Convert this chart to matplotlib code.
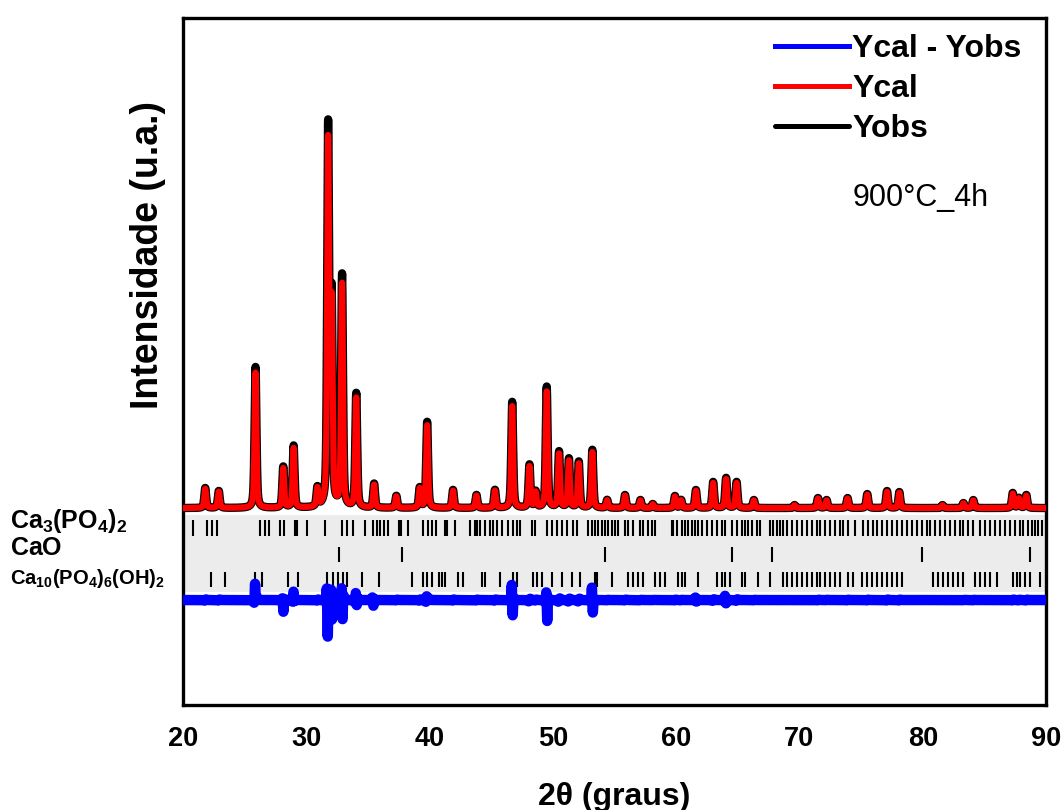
import numpy as np
import matplotlib
matplotlib.use("Agg")
import matplotlib.pyplot as plt

plt.rcParams['font.family'] = ['Liberation Sans', 'DejaVu Sans']
plt.rcParams['mathtext.fontset'] = 'custom'
plt.rcParams['mathtext.rm'] = 'Liberation Sans'
plt.rcParams['mathtext.bf'] = 'Liberation Sans:bold'

# ---------------- data ----------------
# observed reflections: 2theta position (deg) and height above background (counts)
peak_pos = [21.8, 22.9, 25.88, 28.13, 28.97, 30.9, 31.77, 32.05, 32.9, 34.05,
            35.5, 37.3, 39.2, 39.8, 41.9, 43.8, 45.3, 46.7, 48.1, 48.6,
            49.5, 50.5, 51.3, 52.1, 53.2, 54.4, 55.85, 57.1, 58.1, 59.9,
            60.4, 61.6, 63.0, 64.05, 64.9, 66.3, 69.6, 71.5, 72.2, 73.9,
            75.5, 77.1, 78.1, 81.6, 83.3, 84.1, 87.3, 87.8, 88.4]
peak_obs = [200, 170, 1410, 410, 620, 190, 3780, 2060, 2320, 1140,
            240, 120, 200, 860, 180, 130, 180, 1060, 430, 160,
            1210, 560, 490, 460, 580, 80, 130, 80, 40, 120,
            80, 180, 260, 300, 260, 80, 30, 100, 80, 100,
            140, 170, 160, 30, 50, 80, 150, 100, 130]
background = 1000
ycal_scale = 0.96

# difference curve features: position, upward and downward excursion (counts)
diff_pos = [25.88, 28.1, 29.0, 31.7, 32.05, 32.9, 34.05, 35.4, 39.8, 46.7, 49.5, 53.2, 61.6, 64.0]
diff_up = [200, 30, 90, 200, 150, 180, 100, 30, 60, 180, 110, 140, 30, 50]
diff_down = [30, 120, 30, 280, 250, 250, 80, 50, 20, 180, 240, 140, 20, 30]
diff_offset = 80
peak_shift = 0.004   # small misfit of Ycal positions, deg

# Bragg reflection markers
tcp_ticks = [20.78, 21.92, 22.33, 22.73, 26.24, 26.65, 27.0, 27.87, 28.19, 29.08,
             29.27, 30.08, 31.52, 32.87, 33.27, 33.81, 34.76, 35.44, 35.71, 35.98,
             36.30, 36.65, 37.55, 37.65, 38.27, 39.49, 39.9, 40.17, 40.52, 41.25,
             41.38, 42.06, 43.28, 43.68, 43.82, 44.09, 44.49, 44.9, 45.17, 45.44,
             45.85, 46.39, 46.79, 47.06, 47.33, 48.28, 48.55, 49.49, 49.9, 50.31,
             50.71, 51.12, 51.66, 51.93, 52.87, 53.14, 53.4, 53.67, 53.95, 54.22,
             54.49, 54.77, 55.04, 55.31, 55.85, 56.12, 56.52, 57.06, 57.33, 57.74,
             58.01, 58.28, 59.63, 59.77, 60.04, 60.44, 60.71, 60.98, 61.25, 61.52,
             61.79, 62.06, 62.47, 62.88, 63.28, 63.69, 63.96, 64.5, 64.9, 65.31,
             65.58, 65.85, 66.12, 66.53, 66.8, 67.61, 67.88, 68.15, 68.42, 68.69,
             68.96, 69.36, 69.77, 70.17, 70.58, 70.99, 71.39, 71.66, 72.07, 72.47,
             72.88, 73.28, 73.55, 73.96, 74.5, 75.18, 75.58, 75.99, 76.26, 76.66,
             77.07, 77.47, 77.88, 78.29, 78.69, 79.1, 79.5, 79.91, 80.31, 80.58,
             80.99, 81.39, 81.8, 82.2, 82.61, 83.02, 83.29, 83.69, 84.1, 84.64,
             85.04, 85.45, 85.85, 86.26, 86.66, 87.07, 87.47, 87.88, 88.15, 88.56,
             88.83, 89.1, 89.37, 89.64]
cao_ticks = [32.68, 37.73, 54.22, 64.5, 67.74, 79.9, 88.69]
ha_ticks = [22.24, 23.41, 25.84, 26.38, 28.54, 29.35, 31.65, 32.19, 32.6, 33.0,
            33.27, 34.49, 35.92, 38.55, 39.49, 39.76, 40.17, 40.79, 40.98, 41.25,
            42.33, 42.68, 44.22, 44.49, 45.71, 46.79, 47.06, 48.41, 48.68, 49.09,
            49.9, 50.71, 51.52, 52.2, 53.41, 53.55, 54.76, 56.12, 56.52, 56.93,
            57.33, 58.28, 58.69, 59.09, 60.17, 60.44, 60.71, 61.79, 63.28, 63.69,
            63.96, 64.36, 65.31, 65.58, 66.66, 67.61, 68.69, 68.96, 69.36, 69.77,
            70.17, 70.58, 70.99, 71.39, 71.66, 72.07, 72.47, 72.88, 73.28, 73.96,
            74.36, 75.04, 75.45, 75.85, 76.26, 76.66, 77.07, 77.47, 77.88, 78.29,
            80.85, 81.26, 81.66, 82.07, 82.47, 82.88, 83.29, 84.23, 84.64, 85.04,
            85.45, 85.99, 87.34, 87.61, 87.88, 88.29, 88.69, 89.5]
phase_labels = [r'$\mathbf{Ca_3(PO_4)_2}$', r'$\mathbf{CaO}$', r'$\mathbf{Ca_{10}(PO_4)_6(OH)_2}$']
x_start, x_end = 20.1, 90.0

# ---------------- profiles ----------------
fwhm, eta = 0.18, 0.5
tt = np.arange(x_start, x_end, 0.01)

def pattern(heights, shift=0.0):
    y = np.full_like(tt, background, dtype=float)
    for c, h in zip(peak_pos, heights):
        d = (tt - c - shift) / (fwhm / 2)
        y += h * (eta / (1 + d ** 2) + (1 - eta) * np.exp(-np.log(2) * d ** 2))
    return y

y_obs = pattern(peak_obs)
y_cal = pattern([h * ycal_scale for h in peak_obs])
y_diff = diff_offset + (pattern(peak_obs, peak_shift) - y_obs)
for c, u, dn in zip(diff_pos, diff_up, diff_down):
    y_diff += u * np.exp(-((tt - c + 0.04) / 0.035) ** 2) - dn * np.exp(-((tt - c - 0.04) / 0.035) ** 2)

# ---------------- figure ----------------
fig = plt.figure(figsize=(10.61, 8.10), dpi=100)
ax = fig.add_axes([0.1725, 0.1296, 0.8134, 0.848])

ax.axhspan(160, 930, xmin=(x_start - 20) / 70 + 0.001, xmax=1, color='#ececec', lw=0, zorder=0)
lo, = ax.plot(tt, y_obs, color='black', lw=6.0, solid_capstyle='round', zorder=2, label='Yobs')
lc, = ax.plot(tt, y_cal, color='#ff0000', lw=4.4, zorder=3, label='Ycal')
ld, = ax.plot(tt, y_diff, color='#0000ff', lw=7.5, zorder=4, label='Ycal - Yobs')

ax.vlines(tcp_ticks, 720, 880, color='black', lw=1.5, zorder=1)
ax.vlines(cao_ticks, 460, 610, color='black', lw=1.5, zorder=1)
ax.vlines(ha_ticks, 210, 360, color='black', lw=1.5, zorder=1)

ax.set_xlim(20, 90)
ax.set_ylim(-970, 5900)
ax.set_xticks([20, 30, 40, 50, 60, 70, 80, 90])
ax.set_yticks([])
ax.tick_params(axis='x', length=0, pad=15, labelsize=19.5)
for t in ax.get_xticklabels():
    t.set_fontweight('bold')
for s in ax.spines.values():
    s.set_linewidth(2.4)

ax.set_xlabel('2θ (graus)', fontsize=23, fontweight='bold', va='center')
ax.xaxis.set_label_coords(0.4994, -0.134)
ax.set_ylabel('Intensidade (u.a.)', fontsize=27, fontweight='bold', va='center')
ax.yaxis.set_label_coords(-0.0406, 0.655)

leg = ax.legend(handles=[ld, lc, lo], loc='upper left', bbox_to_anchor=(0.686, 0.977),
                frameon=False, prop={'weight': 'bold', 'size': 23}, handlelength=2.3,
                handletextpad=0.12, labelspacing=0.32, borderpad=0, borderaxespad=0)
for l in leg.get_lines():
    l.set_linewidth(3.6)

ax.text(0.776, 0.738, '900°C_4h', transform=ax.transAxes, fontsize=22, ha='left', va='center')

label_y = [521, 548, 579]
label_size = [18, 18, 14.5]
for txt, yp, fs in zip(phase_labels, label_y, label_size):
    fig.text(10 / 1061, 1 - yp / 810, txt, fontsize=fs, ha='left', va='center')

fig.savefig('out.png', dpi=100)
